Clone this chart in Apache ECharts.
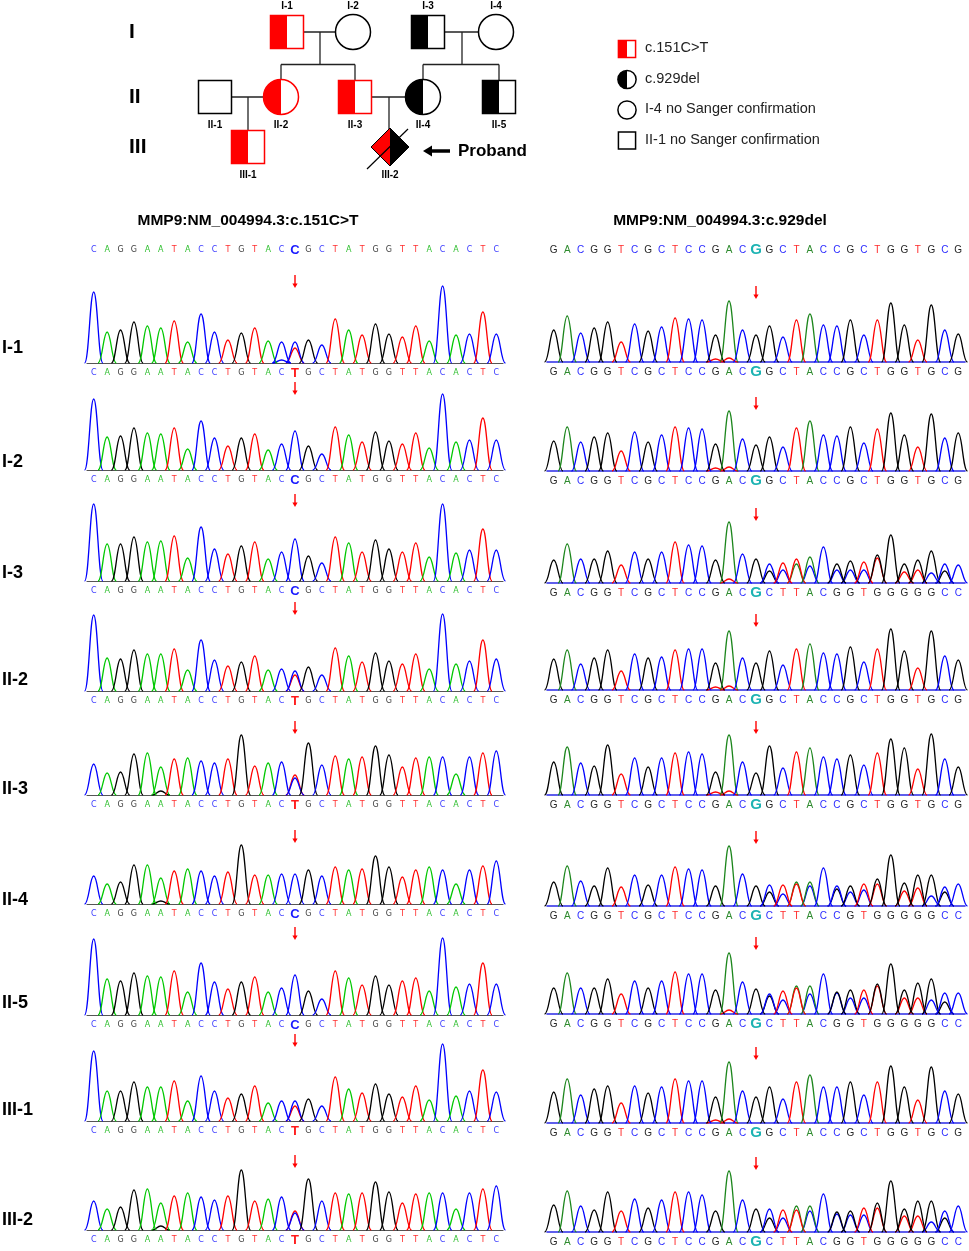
<!DOCTYPE html>
<html>
<head>
<meta charset="utf-8">
<title>MMP9 pedigree and Sanger traces</title>
<script src="https://cdn.jsdelivr.net/npm/echarts@6/dist/echarts.min.js"></script>
<style>
html,body{margin:0;padding:0;background:#fff;}
#chart{width:969px;height:1251px;}
</style>
</head>
<body>
<div id="chart"></div>
<script>
// ---- pedigree ----
var pedIds    = ['I-1','I-2','I-3','I-4','II-1','II-2','II-3','II-4','II-5','III-1','III-2'];
var pedSex    = ['M','F','M','F','M','F','M','F','M','M','U'];
var pedGen    = [1,1,1,1,2,2,2,2,2,3,3];
var pedSlot   = [287,353,428,496,215,281,355,423,499,248,390];
var pedStatus = ['red','none','black','none','none','red','red','black','black','red','both'];
var couples   = [['I-1','I-2'],['I-3','I-4'],['II-1','II-2'],['II-3','II-4']];
var offspring = [['II-2','II-3'],['II-4','II-5'],['III-1'],['III-2']];
var deceased  = ['III-2'];
var proband   = 'III-2';
var genNames  = ['I','II','III'];

var legendText   = ['c.151C>T','c.929del','I-4 no Sanger confirmation','II-1 no Sanger confirmation'];
var legendSex    = ['M','F','F','M'];
var legendStatus = ['red','black','none','none'];

// ---- sequences ----
var titleLeft  = 'MMP9:NM_004994.3:c.151C>T';
var titleRight = 'MMP9:NM_004994.3:c.929del';
var refLeft   = 'CAGGAATACCTGTACCGCTATGGTTACACTC';
var altLeft   = 'CAGGAATACCTGTACTGCTATGGTTACACTC';
var refRight  = 'GACGGTCGCTCCGACGGCTACCGCTGGTGCG';
var delRight  = 'GACGGTCGCTCCGACGCTTACGGTGGGGGCC';
var delRight2 = 'GACGGTCGCTCCGACGCTTACCGTGGGGGCC';
var variantIndex = 15;

var samples   = ['I-1','I-2','I-3','II-2','II-3','II-4','II-5','III-1','III-2'];
var callLeft  = [altLeft, refLeft, refLeft, altLeft, altLeft, refLeft, refLeft, altLeft, altLeft];
var callRight = [refRight, refRight, delRight, refRight, refRight, delRight2, delRight, refRight, delRight];

// peak heights, c.151 region (one peak per base of refLeft)
var l_I1   = [71,31,33,41,37,35,42,21,49,31,23,30,35,22,21,21,23,18,44,33,28,39,29,26,37,22,77,28,29,51,29];
var l_I2   = [71,33,34,42,37,36,42,21,49,32,24,32,36,20,26,39,24,16,43,35,28,38,29,26,37,22,76,28,30,52,30];
var l_I3   = [77,37,37,44,39,40,45,23,54,32,27,35,39,22,29,42,25,18,44,38,29,41,32,29,38,24,77,28,31,52,31];
var l_II2  = [76,33,32,41,37,37,42,21,51,31,25,29,35,21,22,20,24,16,43,35,29,38,30,27,37,22,77,27,30,51,32];
var l_II3  = [31,22,23,41,42,28,36,37,34,32,36,60,29,32,33,17,52,30,39,36,38,49,40,28,37,38,38,21,38,42,44];
var l_II4  = [28,20,22,39,39,26,33,35,33,28,32,59,29,29,30,30,34,28,37,34,35,48,37,27,34,37,34,20,34,38,43];
var l_II5  = [76,36,34,42,39,38,44,23,52,33,26,33,38,23,27,40,24,16,44,37,30,39,30,34,37,24,77,28,31,52,31];
var l_III1 = [70,30,30,39,34,34,40,20,45,30,23,27,35,18,20,20,22,15,44,32,28,37,27,24,35,21,77,25,30,51,29];
var l_III2 = [29,21,23,40,41,27,34,37,33,30,34,60,29,31,33,17,51,29,37,36,37,48,38,27,36,37,37,21,37,41,44];
// secondary peaks [index, base, height]
var m_I1   = [[15,'T',15],[14,'C',3]];
var m_II2  = [[15,'T',16]];
var m_II3  = [[15,'T',20],[5,'G',4]];
var m_II4  = [[5,'G',3]];
var m_III1 = [[15,'T',15]];
var m_III2 = [[15,'T',19],[5,'G',4]];

// peak heights, c.929 region (one peak per called base)
var r_I1   = [32,46,29,34,40,20,38,31,35,44,43,42,27,61,32,27,36,25,42,48,37,36,42,27,42,59,37,22,57,32,28];
var r_I2   = [30,44,29,34,38,20,39,29,36,44,43,42,27,60,32,26,34,24,43,50,36,35,44,28,42,58,36,24,57,33,38];
var r_I3   = [23,39,24,24,32,18,31,24,31,41,38,37,23,61,29,24,19,20,24,26,36,19,22,21,28,48,19,23,32,19,18];
var r_II2  = [31,40,26,32,40,19,36,32,33,40,41,41,27,59,32,27,39,25,41,46,37,36,43,28,41,61,39,22,59,34,30];
var r_II3  = [33,48,32,29,50,21,37,28,37,42,43,41,23,60,33,22,49,27,43,47,38,36,40,30,42,56,47,26,61,36,28];
var r_II4  = [24,40,25,20,38,19,31,21,31,39,37,36,20,60,32,20,21,21,22,24,38,20,20,22,27,51,23,31,31,19,22];
var r_II5  = [26,41,26,26,35,20,33,26,33,42,40,40,24,61,32,25,20,23,26,28,40,22,24,24,30,50,24,31,35,21,21];
var r_III1 = [31,44,28,34,37,20,37,30,36,44,42,42,26,61,32,26,36,24,41,48,36,36,41,28,41,57,36,23,56,32,29];
var r_III2 = [27,41,26,22,40,21,33,24,32,40,40,37,21,61,32,23,23,22,22,26,38,20,21,24,29,51,23,31,31,21,26];
var mr_norm = [[13,'T',4],[12,'T',3]];
var mr_I3   = [[16,'G',12],[17,'C',13],[18,'A',19],[19,'C',17],[21,'C',13],[22,'C',13],[23,'C',13],[24,'T',25],[26,'T',11],[27,'T',13],[28,'C',10],[29,'G',12],[13,'T',4]];
var mr_II4  = [[16,'G',14],[17,'C',12],[18,'A',24],[19,'C',20],[21,'G',17],[22,'C',14],[23,'C',16],[24,'T',22],[26,'T',15],[27,'T',18],[28,'C',10],[29,'G',14]];
var mr_II5  = [[16,'G',18],[17,'C',14],[18,'A',28],[19,'C',20],[21,'C',21],[22,'C',16],[23,'C',16],[24,'T',28],[26,'T',16],[27,'T',16],[28,'C',14],[29,'G',12],[13,'T',4]];
var mr_III2 = [[16,'G',14],[17,'C',14],[18,'A',26],[19,'C',21],[21,'C',18],[22,'C',17],[23,'C',17],[24,'T',24],[26,'T',16],[27,'T',16],[28,'C',10],[29,'G',14]];

var heightsLeft  = [l_I1, l_I2, l_I3, l_II2, l_II3, l_II4, l_II5, l_III1, l_III2];
var minorsLeft   = [m_I1, [], [], m_II2, m_II3, m_II4, [], m_III1, m_III2];
var heightsRight = [r_I1, r_I2, r_I3, r_II2, r_II3, r_II4, r_II5, r_III1, r_III2];
var minorsRight  = [mr_norm, mr_norm, mr_I3, mr_norm, mr_norm, mr_II4, mr_II5, mr_norm, mr_III2];

// ---- layout / style ----
var FONT = 'Arial, "Liberation Sans", sans-serif';
var genY = [32, 97, 147];
var baseL = [363,470,581,691,795,904,1015,1121,1230];
var baseR = [362,471,583,690,795,906,1014,1123,1232];
var rowLabelY = [348,462,573,680,789,900,1003,1110,1220];
var arrowL = [75,75,74,76,61,61,75,74,62];
var arrowR = [63,61,62,63,61,62,64,63,62];
var PANEL_H = 95;
var traceLeft  = ['#00c800','#0000ff','#000000','#ff0000'];
var traceRight = ['#1c861c','#0000ff','#000000','#ff0000'];
var letterLeft  = {A:'#2fbf2f', C:'#3a3aff', G:'#404040', T:'#ff2e2e'};
var letterRight = {A:'#2e8b2e', C:'#2a2aff', G:'#262626', T:'#ff2a2a'};
var hiLeft  = {A:'#22aa22', C:'#1a1aff', G:'#000', T:'#ff1a1a'};
var hiRight = {A:'#1db3b3', C:'#1db3b3', G:'#1db3b3', T:'#1db3b3'};

var chart = echarts.init(document.getElementById('chart'));

function idx(id) { return pedIds.indexOf(id); }

function symbolShapes(x, y, sex, status, k) {
  var red = '#ff0000', blk = '#000000';
  var stroke = status === 'red' ? red : blk;
  var fillHalf = status === 'red' ? red : blk;
  var lw = 1.5;
  var out = [];
  if (sex === 'M') {
    var s = 16.5 * k;
    out.push({type:'rect', shape:{x:x-s, y:y-s, width:2*s, height:2*s}, style:{fill:'#fff'}});
    if (status !== 'none') out.push({type:'rect', shape:{x:x-s, y:y-s, width:s, height:2*s}, style:{fill:fillHalf}});
    out.push({type:'rect', shape:{x:x-s, y:y-s, width:2*s, height:2*s}, style:{fill:'none', stroke:stroke, lineWidth:lw}});
  } else if (sex === 'F') {
    var r = 17.5 * k;
    out.push({type:'circle', shape:{cx:x, cy:y, r:r}, style:{fill:'#fff'}});
    if (status !== 'none') out.push({type:'sector', shape:{cx:x, cy:y, r0:0, r:r, startAngle:Math.PI/2, endAngle:Math.PI*1.5, clockwise:true}, style:{fill:fillHalf}});
    out.push({type:'circle', shape:{cx:x, cy:y, r:r}, style:{fill:'none', stroke:stroke, lineWidth:lw}});
  } else {
    var d = 19 * k;
    out.push({type:'polygon', shape:{points:[[x,y-d],[x-d,y],[x,y+d]]}, style:{fill:red}});
    out.push({type:'polygon', shape:{points:[[x,y-d],[x+d,y],[x,y+d]]}, style:{fill:blk}});
    out.push({type:'polygon', shape:{points:[[x,y-d],[x+d,y],[x,y+d],[x-d,y]]}, style:{fill:'none', stroke:blk, lineWidth:1}});
  }
  return out;
}

function txt(text, x, y, size, weight, align, color) {
  return {type:'text', x:x, y:y, style:{text:text, fill:color || '#000', fontSize:size, fontWeight:weight || 'normal', fontFamily:FONT,
    align:align || 'center', verticalAlign:'middle', textAlign:align || 'center', textVerticalAlign:'middle'}};
}

var grids = [], xAxes = [], yAxes = [], series = [], graphics = [];

// pedigree grid
grids.push({left:0, top:0, width:969, height:190});
xAxes.push({type:'value', gridIndex:0, min:0, max:969, show:false});
yAxes.push({type:'value', gridIndex:0, min:0, max:190, inverse:true, show:false});

series.push({
  type:'custom', xAxisIndex:0, yAxisIndex:0, z:1, silent:true,
  data: couples.map(function (c, k) { return [pedSlot[idx(c[0])], genY[pedGen[idx(c[0])] - 1], k]; }),
  renderItem: function (params, api) {
    var k = api.value(2);
    var a = idx(couples[k][0]), b = idx(couples[k][1]);
    var g = pedGen[a];
    var pa = api.coord([pedSlot[a], genY[g-1]]), pb = api.coord([pedSlot[b], genY[g-1]]);
    var ls = {stroke:'#222', lineWidth:1.3};
    var midX = (pa[0] + pb[0]) / 2;
    var kids = offspring[k].map(idx);
    var out = [{type:'line', shape:{x1:pa[0], y1:pa[1], x2:pb[0], y2:pb[1]}, style:ls}];
    var childY = api.coord([0, genY[g]])[1];
    if (kids.length > 1) {
      var sibY = api.coord([0, (genY[g-1] + genY[g]) / 2])[1];
      out.push({type:'line', shape:{x1:midX, y1:pa[1], x2:midX, y2:sibY}, style:ls});
      var xs = kids.map(function (c) { return api.coord([pedSlot[c], 0])[0]; });
      out.push({type:'line', shape:{x1:Math.min.apply(null, xs), y1:sibY, x2:Math.max.apply(null, xs), y2:sibY}, style:ls});
      xs.forEach(function (x) { out.push({type:'line', shape:{x1:x, y1:sibY, x2:x, y2:childY}, style:ls}); });
    } else {
      out.push({type:'line', shape:{x1:midX, y1:pa[1], x2:midX, y2:childY}, style:ls});
    }
    return {type:'group', children:out};
  }
});

series.push({
  type:'custom', xAxisIndex:0, yAxisIndex:0, z:3, silent:true,
  data: pedIds.map(function (id, i) { return [pedSlot[i], genY[pedGen[i] - 1], i]; }),
  renderItem: function (params, api) {
    var i = api.value(2);
    var c = api.coord([api.value(0), api.value(1)]);
    var out = symbolShapes(c[0], c[1], pedSex[i], pedStatus[i], 1);
    var ly = pedGen[i] === 1 ? c[1] - 26 : c[1] + 28;
    out.push(txt(pedIds[i], c[0], ly, 10, 'bold'));
    if (deceased.indexOf(pedIds[i]) >= 0) {
      out.push({type:'line', shape:{x1:c[0]-23, y1:c[1]+22, x2:c[0]+18, y2:c[1]-18}, style:{stroke:'#000', lineWidth:1.2}});
    }
    if (pedIds[i] === proband) {
      out.push({type:'line', shape:{x1:c[0]+40, y1:c[1]+4, x2:c[0]+60, y2:c[1]+4}, style:{stroke:'#000', lineWidth:3.5}});
      out.push({type:'polygon', shape:{points:[[c[0]+33, c[1]+4],[c[0]+42, c[1]-1.5],[c[0]+42, c[1]+9.5]]}, style:{fill:'#000'}});
      out.push(txt('Proband', c[0]+68, c[1]+4, 17, 'bold', 'left'));
    }
    return {type:'group', children:out};
  }
});

// legend of the pedigree
series.push({
  type:'custom', xAxisIndex:0, yAxisIndex:0, z:3, silent:true,
  data: legendText.map(function (t, i) { return [627, 49 + i * 30.5, i]; }),
  renderItem: function (params, api) {
    var i = api.value(2);
    var c = api.coord([api.value(0), api.value(1)]);
    var out = symbolShapes(c[0], c[1], legendSex[i], legendStatus[i], 0.52);
    out.push(txt(legendText[i], c[0] + 18, c[1] - 1, 14.5, 'normal', 'left', '#222'));
    return {type:'group', children:out};
  }
});

genNames.forEach(function (g, i) {
  graphics.push(txt(g, 129, genY[i], 21, 'bold', 'left'));
});

// sequence axes
function seqAxis(gi, seq, side, margin) {
  var letters = side === 'L' ? letterLeft : letterRight;
  var hi = side === 'L' ? hiLeft : hiRight;
  var size = side === 'L' ? 8 : 10;
  var fam = side === 'L' ? '"DejaVu Sans", sans-serif' : FONT;
  var rich = {};
  'ACGT'.split('').forEach(function (b) {
    rich[b] = {color:letters[b], fontSize:size, fontFamily:fam, lineHeight:12};
    rich['h' + b] = {color:hi[b], fontSize:side === 'L' ? 13 : 15, fontWeight:'bold', fontFamily:FONT, lineHeight:12};
  });
  var cats = [];
  for (var i = 0; i < seq.length; i++) cats.push(String(i));
  return {
    type:'category', gridIndex:gi, data:cats, boundaryGap:true,
    axisTick:{show:false}, splitLine:{show:false},
    axisLine:{show:false},
    axisLabel:{show:true, interval:0, margin:margin, rich:rich,
      formatter:function (v, k) { var b = seq.charAt(k); return '{' + (k === variantIndex ? 'h' : '') + b + '|' + b + '}'; }}
  };
}

var panelX = {L:{left:87, width:416}, R:{left:547, width:418}};

// reference rows at top
['L','R'].forEach(function (side) {
  var gi = grids.length;
  grids.push({left:panelX[side].left, width:panelX[side].width, top:242, height:2});
  xAxes.push(seqAxis(gi, side === 'L' ? refLeft : refRight, side, 0));
  yAxes.push({type:'value', gridIndex:gi, min:0, max:1, show:false});
});

graphics.push(txt(titleLeft, 248, 221, 15.5, 'bold'));
graphics.push(txt(titleRight, 720, 221, 15.5, 'bold'));

function peakRender(colors) {
  return function (params, api) {
    var i = api.value(0), h = api.value(1);
    var top = api.coord([i, h]);
    var base = api.coord([i, 0]);
    var hw = api.size([1, 0])[0] * 0.68;
    var x = top[0], y0 = base[1], y1 = top[1];
    var d = 'M' + (x - hw) + ' ' + y0 +
      ' C' + (x - hw * 0.52) + ' ' + y0 + ' ' + (x - hw * 0.42) + ' ' + y1 + ' ' + x + ' ' + y1 +
      ' C' + (x + hw * 0.42) + ' ' + y1 + ' ' + (x + hw * 0.52) + ' ' + y0 + ' ' + (x + hw) + ' ' + y0;
    return {type:'path', shape:{pathData:d}, style:{fill:'none', stroke:colors[api.value(2)], lineWidth:1.3}};
  };
}

function arrowRender(params, api) {
  var tip = api.coord([api.value(0), api.value(1)]);
  var tail = api.coord([api.value(0), api.value(2)]);
  return {type:'group', children:[
    {type:'line', shape:{x1:tail[0], y1:tail[1], x2:tip[0], y2:tip[1] - 3}, style:{stroke:'#ff0000', lineWidth:1.4}},
    {type:'polygon', shape:{points:[[tip[0]-2.6, tip[1]-4.5],[tip[0]+2.6, tip[1]-4.5],[tip[0], tip[1]]]}, style:{fill:'#ff0000'}}
  ]};
}

samples.forEach(function (name, r) {
  graphics.push(txt(name, 2, rowLabelY[r], 18, 'bold', 'left'));
  ['L','R'].forEach(function (side) {
    var gi = grids.length;
    var base = side === 'L' ? baseL[r] : baseR[r];
    grids.push({left:panelX[side].left, width:panelX[side].width, top:base - PANEL_H, height:PANEL_H});
    var call = side === 'L' ? callLeft[r] : callRight[r];
    var ax = seqAxis(gi, call, side, 4);
    ax.axisLine = {show:true, lineStyle:{color: side === 'L' ? '#555555' : '#2a2ae6', width: side === 'L' ? 1.2 : 1.6}};
    xAxes.push(ax);
    yAxes.push({type:'value', gridIndex:gi, min:0, max:PANEL_H, show:false});

    var traceSeq = side === 'L' ? refLeft : call;
    var hs = side === 'L' ? heightsLeft[r] : heightsRight[r];
    var ms = side === 'L' ? minorsLeft[r] : minorsRight[r];
    var data = [];
    ms.forEach(function (m) { data.push([m[0], m[2], 'ACGT'.indexOf(m[1])]); });
    hs.forEach(function (h, i) { data.push([i, h, 'ACGT'.indexOf(traceSeq.charAt(i))]); });
    series.push({
      type:'custom', xAxisIndex:gi, yAxisIndex:gi, silent:true, clip:false,
      encode:{x:0, y:1},
      data:data,
      renderItem:peakRender(side === 'L' ? traceLeft : traceRight)
    });
    var a = side === 'L' ? arrowL[r] : arrowR[r];
    series.push({
      type:'custom', xAxisIndex:gi, yAxisIndex:gi, silent:true, clip:false,
      encode:{x:0, y:[1, 2]},
      data:[[variantIndex, a, a + 13]],
      renderItem:arrowRender
    });
  });
});

chart.setOption({
  backgroundColor:'#ffffff',
  animation:false,
  grid:grids,
  xAxis:xAxes,
  yAxis:yAxes,
  graphic:{elements:graphics},
  series:series
});
</script>
</body>
</html>
